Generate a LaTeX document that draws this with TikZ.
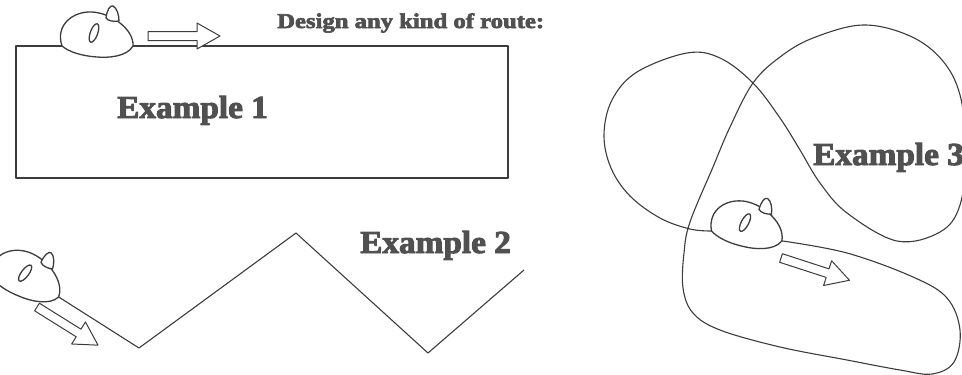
\documentclass[tikz,border=0pt]{standalone}
\usepackage{fontspec}
\newfontfamily\routefont{Liberation Serif}[BoldFeatures={FakeBold=3}]
\definecolor{lineColor}{RGB}{60,60,60}
\definecolor{textColor}{RGB}{80,80,80}
\tikzstyle{routeLine} = [color=lineColor, line width=1.1pt, line join=round]
\tikzstyle{mouseStyle} = [routeLine, fill=white, line width=1.3pt]
\tikzstyle{blockArrow} = [routeLine, fill=white, line width=1pt]
\tikzstyle{exampleText} = [text=textColor, inner sep=0, anchor=base west, font=\routefont\bfseries\fontsize{32}{32}\selectfont, xscale=1.04]
\tikzstyle{titleText} = [exampleText, font=\routefont\bfseries\fontsize{21}{21}\selectfont, xscale=1.13]
\tikzset{
  % mouse seen from the side, nose to the right, sitting on its route
  pics/mouse/.style={code={
    \filldraw [mouseStyle] (-35,13) .. controls (-42,-8) and (-24,-22) .. (-5,-21)
      .. controls (14,-20) and (37,-4) .. (36,13)
      .. controls (30,24) and (10,25) .. (0,24)
      .. controls (-15,23) and (-28,19) .. cycle;
    \filldraw [mouseStyle] (9,-15) .. controls (10,-23) and (13,-28) .. (16,-27)
      .. controls (20,-25) and (22,-18) .. (22,-12)
      .. controls (17,-11) and (11,-12) .. cycle;
    \draw [mouseStyle, rotate around={-20:(-3,0)}] (-3,0) ellipse [x radius=3.7, y radius=9.8];
    \coordinate (-tail) at (-35,13);
    \coordinate (-nose) at (36,13);
  }},
  pics/routeArrow/.style={code={
    \filldraw [blockArrow] (0,-4.5) -- (49,-4.5) -- (49,-13) -- (72,0) -- (49,13) -- (49,4.5) -- (0,4.5) -- cycle;
  }}
}

\begin{document}
\begin{tikzpicture}[x=1pt, y=-1pt]
  \useasboundingbox (0,0) rectangle (962,375);
  \clip (0,0) rectangle (962,375);

  % example 1: rectangle
  \pic (m1) at (97,33) {mouse};
  \coordinate (r1) at (508,46);
  \coordinate (r2) at (508,178);
  \coordinate (r3) at (16,178);
  \coordinate (r4) at (16,46);
  \draw [routeLine] (m1-nose) -- (r1) -- (r2) -- (r3) -- (r4) -- (m1-tail);
  \pic at (148,36) {routeArrow};
  \node [titleText] (title) at (277,28) {Design any kind of route:};
  \node [exampleText] (ex1) at (117,118) {Example 1};

  % example 2: zigzag
  \pic [rotate=-17] (m2) at (28,274) {mouse};
  \coordinate (z1) at (139,348);
  \coordinate (z2) at (296,233);
  \coordinate (z3) at (428,353);
  \coordinate (z4) at (524,270);
  \draw [routeLine] (m2-nose) -- (z1) -- (z2) -- (z3) -- (z4);
  \pic [rotate=-32] at (37,307) {routeArrow};
  \node [exampleText] (ex2) at (360,253) {Example 2};

  % example 3: free curve
  \pic [rotate=-8] (m3) at (748,223) {mouse};
  \draw [routeLine] plot [smooth, tension=0.6] coordinates {
    (m3-nose) (847,253) (913,277) (947,298) (960,330) (954,362) (932,374)
    (900,370) (847,360) (780,347) (720,330) (693,313) (683,288) (684,253)
    (690,222) (713,167) (730,127) (753,83) (780,57) (813,38) (863,25)
    (910,36) (942,60) (960,95) (966,150) (960,205) (940,232) (897,241)
    (847,213) (820,183) (800,150) (780,118) (753,83) (720,58) (687,53)
    (637,72) (612,100) (604,135) (611,168) (630,196) (660,218) (690,229)
    (m3-tail)};
  \pic [rotate=-18] at (781,258) {routeArrow};
  \node [exampleText] (ex3) at (813,165) {Example 3};
\end{tikzpicture}
\end{document}
